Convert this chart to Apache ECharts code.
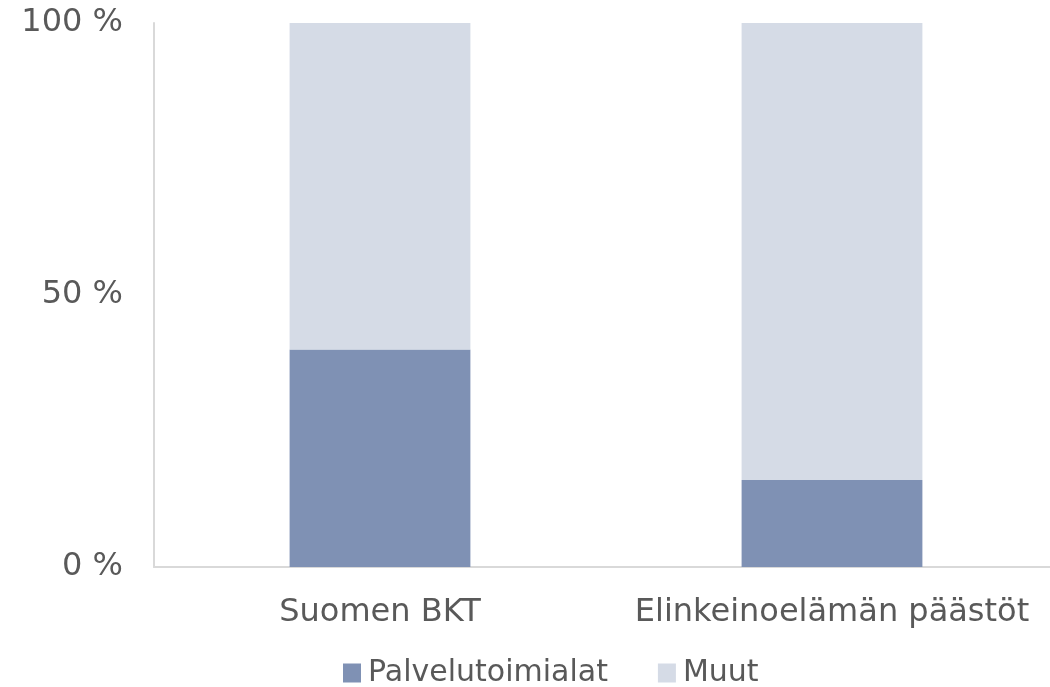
<!DOCTYPE html>
<html><head><meta charset="utf-8">
<script src="https://cdn.jsdelivr.net/npm/echarts@6/dist/echarts.min.js"></script>
<style>html,body{margin:0;padding:0;background:#fff}#c{width:1050px;height:687px}</style>
</head><body><div id="c"></div>
<script>
const categories = ['Suomen BKT', 'Elinkeinoelämän päästöt'];
const seriesNames = ['Palvelutoimialat', 'Muut'];
const palvelut = [40, 16];
const muut = [60, 84];
const yTicks = [0, 50, 100];

const chart = echarts.init(document.getElementById('c'), null, {renderer: 'canvas'});
const font = 'DejaVu Sans, Verdana, sans-serif';
chart.setOption({
  animation: false,
  textStyle: {fontFamily: font},
  grid: {left: 154, top: 23, width: 904, height: 544, containLabel: false, outerBoundsMode: 'none'},
  legend: {
    top: 653, left: 338,
    itemWidth: 18, itemHeight: 19, itemGap: 50,
    icon: 'rect',
    textStyle: {fontSize: 30, color: '#595959', fontFamily: font, padding: [0,0,0,2]},
    data: seriesNames
  },
  xAxis: {
    type: 'category', data: categories,
    axisLine: {lineStyle: {color: '#d9d9d9', width: 2}},
    axisTick: {show: false},
    axisLabel: {fontSize: 32, color: '#595959', fontFamily: font, margin: 30,
      interval: 0, hideOverlap: false}
  },
  yAxis: {
    type: 'value', min: 0, max: 100, interval: 50,
    axisLine: {show: true, lineStyle: {color: '#d9d9d9', width: 2}},
    axisTick: {show: false},
    splitLine: {show: false},
    axisLabel: {fontSize: 32, color: '#595959', fontFamily: font, margin: 31,
      formatter: v => yTicks.includes(v) ? v + ' %' : ''}
  },
  series: [
    {name: seriesNames[0], type: 'bar', stack: 's', data: palvelut, barWidth: '40%',
     itemStyle: {color: '#7f91b4'}},
    {name: seriesNames[1], type: 'bar', stack: 's', data: muut, barWidth: '40%',
     itemStyle: {color: '#d5dbe6'}}
  ]
});
</script></body></html>
